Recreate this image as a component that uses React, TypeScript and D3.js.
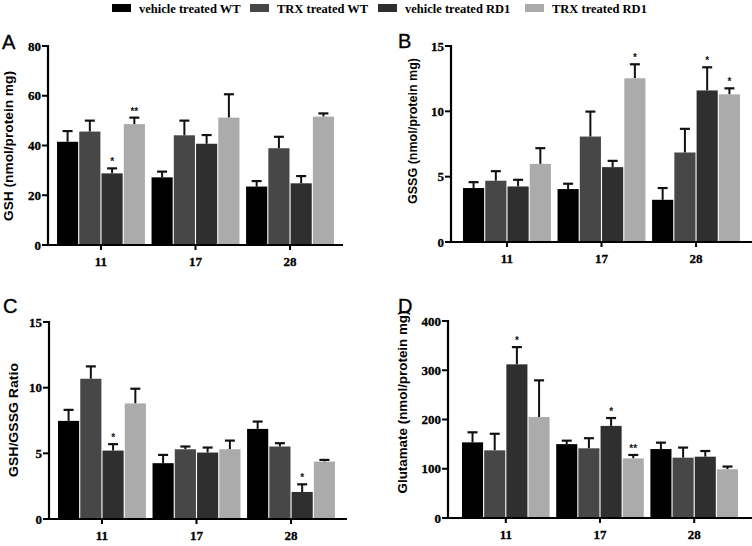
import React from "react";
import * as d3 from "d3";

const days = ["11", "17", "28"];
const seriesNames = ["vehicle treated WT", "TRX treated WT", "vehicle treated RD1", "TRX treated RD1"];
const seriesColors = ["#000000", "#474747", "#2f2f2f", "#ababab"];

// rows = day, columns = series
const gshMean = [[41.5, 45.6, 28.8, 48.6], [27.2, 44.1, 40.7, 51.2], [23.5, 38.9, 24.8, 51.6]];
const gshSem = [[4.3, 4.4, 2.0, 2.6], [2.3, 5.9, 3.5, 9.4], [2.2, 4.6, 2.9, 1.3]];
const gshSig = [["", "", "*", "**"], ["", "", "", ""], ["", "", "", ""]];
const gshTicks = [0, 20, 40, 60, 80];

const gssgMean = [[4.13, 4.69, 4.25, 5.98], [4.05, 8.07, 5.73, 12.53], [3.23, 6.85, 11.6, 11.3]];
const gssgSem = [[0.45, 0.73, 0.51, 1.2], [0.41, 1.91, 0.48, 1.07], [0.9, 1.81, 1.77, 0.46]];
const gssgSig = [["", "", "", ""], ["", "", "", "*"], ["", "", "*", "*"]];
const gssgTicks = [0, 5, 10, 15];

const ratioMean = [[7.47, 10.68, 5.21, 8.8], [4.25, 5.31, 5.06, 5.31], [6.86, 5.52, 2.06, 4.37]];
const ratioSem = [[0.84, 0.94, 0.49, 1.12], [0.63, 0.21, 0.38, 0.66], [0.56, 0.25, 0.58, 0.13]];
const ratioSig = [["", "", "*", ""], ["", "", "", ""], ["", "", "*", ""]];
const ratioTicks = [0, 5, 10, 15];

const gluMean = [[153.6, 137.4, 312, 205], [150, 141.5, 187, 121], [140, 122.5, 124.5, 99]];
const gluSem = [[20.4, 33.6, 35, 74.5], [7, 20.5, 16, 7], [13, 20.5, 11.5, 5.5]];
const gluSig = [["", "", "*", ""], ["", "", "*", "**"], ["", "", "", ""]];
const gluTicks = [0, 100, 200, 300, 400];

type PanelCfg = {
  letter: string; lx: number; ly: number;
  title: string; tx: number; tlen: number; tcy: number;
  axisX: number; xEnd: number; barStart: number; barEnd: number;
  yTop: number; yBot: number; max: number; ticks: number[];
  mean: number[][]; sem: number[][]; sig: string[][];
};

const panels: PanelCfg[] = [
  { letter: "A", lx: 2, ly: 49, title: "GSH (nmol/protein mg)", tx: 9, tlen: 150, tcy: 146, axisX: 48, xEnd: 343, barStart: 57, barEnd: 334, yTop: 46, yBot: 245, max: 80, ticks: gshTicks, mean: gshMean, sem: gshSem, sig: gshSig },
  { letter: "B", lx: 398, ly: 48, title: "GSSG (nmol/protein mg)", tx: 413, tlen: 146, tcy: 131, axisX: 451, xEnd: 752, barStart: 463, barEnd: 740, yTop: 46, yBot: 242, max: 15, ticks: gssgTicks, mean: gssgMean, sem: gssgSem, sig: gssgSig },
  { letter: "C", lx: 3, ly: 313, title: "GSH/GSSG Ratio", tx: 14, tlen: 114, tcy: 420, axisX: 49, xEnd: 347, barStart: 58, barEnd: 335, yTop: 322, yBot: 519, max: 15, ticks: ratioTicks, mean: ratioMean, sem: ratioSem, sig: ratioSig },
  { letter: "D", lx: 398, ly: 313, title: "Glutamate (nmol/protein mg)", tx: 403, tlen: 183, tcy: 402, axisX: 448, xEnd: 752, barStart: 462, barEnd: 738, yTop: 321, yBot: 518, max: 400, ticks: gluTicks, mean: gluMean, sem: gluSem, sig: gluSig },
];

const serif = "'Liberation Serif', 'Times New Roman', serif";
const sans = "'Liberation Sans', Arial, sans-serif";

function Panel({ p }: { p: PanelCfg }) {
  const x0 = d3.scaleBand<string>().domain(days).range([p.barStart, p.barEnd]).paddingInner(0.07).paddingOuter(0);
  const x1 = d3.scaleBand<number>().domain(d3.range(seriesNames.length)).range([0, x0.bandwidth()]).paddingInner(0.05);
  const y = d3.scaleLinear().domain([0, p.max]).range([p.yBot, p.yTop]);
  const capW = 10;
  return (
    <g>
      <text x={p.lx} y={p.ly} fontFamily={sans} fontSize={20} fill="#000" stroke="#000" strokeWidth={0.4}>{p.letter}</text>
      <text transform={`translate(${p.tx},${p.tcy}) rotate(-90)`} textAnchor="middle" dominantBaseline="central" fontFamily={sans} fontWeight="bold" fontSize={12.5} textLength={p.tlen} lengthAdjust="spacingAndGlyphs" fill="#000">{p.title}</text>
      {days.map((d, i) => (
        <g key={d}>
          {seriesNames.map((s, j) => {
            const bx = (x0(d) as number) + (x1(j) as number);
            const bw = x1.bandwidth();
            const cx = bx + bw / 2;
            const v = p.mean[i][j];
            const top = y(v + p.sem[i][j]);
            return (
              <g key={s}>
                <line x1={cx} x2={cx} y1={y(v)} y2={top} stroke="#111" strokeWidth={2} />
                <line x1={cx - capW / 2} x2={cx + capW / 2} y1={top} y2={top} stroke="#111" strokeWidth={2.2} />
                <rect x={bx} y={y(v)} width={bw} height={y(0) - y(v)} fill={seriesColors[j]} />
                {p.sig[i][j] && (
                  <text x={cx} y={top - 3} textAnchor="middle" fontFamily={sans} fontWeight="bold" fontSize={10} fill="#111">{p.sig[i][j]}</text>
                )}
              </g>
            );
          })}
          <line x1={(x0(d) as number) + x0.bandwidth() / 2} x2={(x0(d) as number) + x0.bandwidth() / 2} y1={p.yBot} y2={p.yBot + 5} stroke="#000" strokeWidth={2} />
          <text x={(x0(d) as number) + x0.bandwidth() / 2} y={p.yBot + 21} textAnchor="middle" fontFamily={serif} fontWeight="bold" fontSize={13} fill="#000" stroke="#000" strokeWidth={0.3}>{d}</text>
        </g>
      ))}
      <line x1={p.axisX} x2={p.axisX} y1={p.yTop - 1} y2={p.yBot + 1} stroke="#000" strokeWidth={2.2} />
      <line x1={p.axisX - 1} x2={p.xEnd} y1={p.yBot} y2={p.yBot} stroke="#000" strokeWidth={2.2} />
      {p.ticks.map((t) => (
        <g key={t}>
          <line x1={p.axisX - 6} x2={p.axisX} y1={y(t)} y2={y(t)} stroke="#000" strokeWidth={2} />
          <text x={p.axisX - 7} y={y(t)} textAnchor="end" dominantBaseline="central" fontFamily={serif} fontWeight="bold" fontSize={13} fill="#000" stroke="#000" strokeWidth={0.3}>{t}</text>
        </g>
      ))}
    </g>
  );
}

const legendRectX = [112, 250, 378, 525];

export default function App() {
  return (
    <svg width={752} height={546} style={{ position: "absolute", left: 0, top: 0, background: "#fff" }}>
      <rect x={0} y={0} width={752} height={546} fill="#fff" />
      {seriesNames.map((s, j) => (
        <g key={s}>
          <rect x={legendRectX[j]} y={4} width={19} height={8} fill={seriesColors[j]} />
          <text x={legendRectX[j] + 27} y={12.5} fontFamily={serif} fontWeight="bold" fontSize={12.5} fill="#000">{s}</text>
        </g>
      ))}
      {panels.map((p) => <Panel key={p.letter} p={p} />)}
    </svg>
  );
}
